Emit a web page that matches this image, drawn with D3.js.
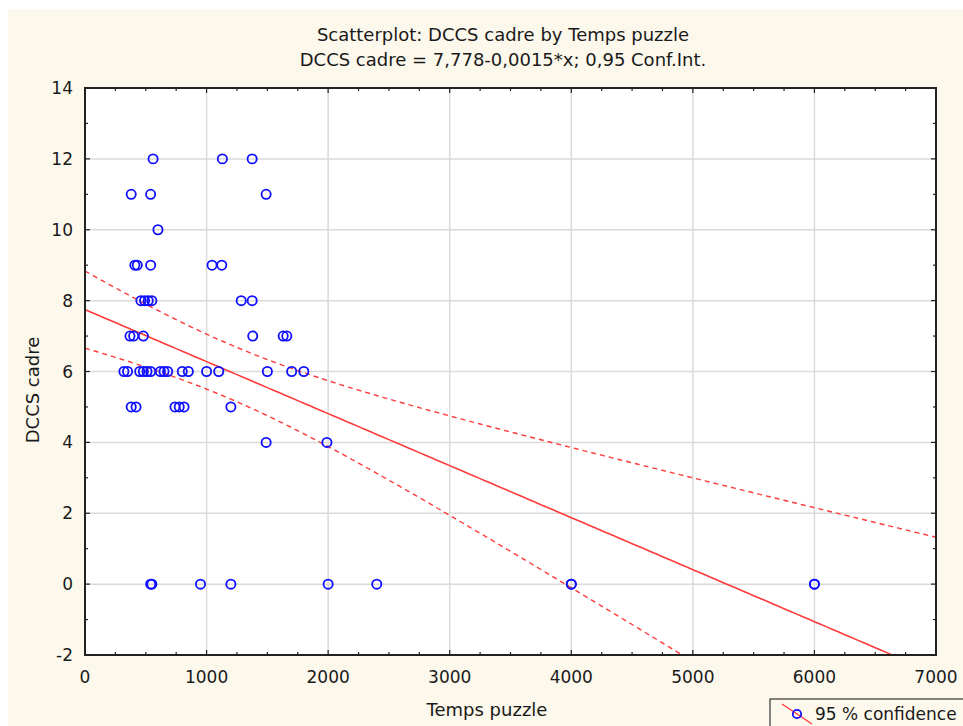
<!DOCTYPE html>
<html>
<head>
<meta charset="utf-8">
<script src="https://cdn.jsdelivr.net/npm/d3@7"></script>
<style>
  html, body { margin: 0; padding: 0; background: #ffffff; }
  svg { display: block; }
</style>
</head>
<body>
<svg id="chart" width="963" height="726"></svg>
<script>
// ---- data ----
const tempsPuzzle = [
  560, 1130, 1375,
  380, 540, 1490,
  600,
  410, 430, 540, 1045, 1125,
  460, 490, 520, 550, 1285, 1375,
  370, 400, 480, 1380, 1630, 1660,
  320, 350, 450, 480, 510, 540, 620, 650, 680, 800, 850, 1000, 1100, 1500, 1700, 1800,
  380, 420, 740, 775, 815, 1200,
  1490, 1990,
  540, 550, 950, 1200, 2000, 2400, 4000, 4000, 6000, 6000
];
const dccsCadre = [
  12, 12, 12,
  11, 11, 11,
  10,
  9, 9, 9, 9, 9,
  8, 8, 8, 8, 8, 8,
  7, 7, 7, 7, 7, 7,
  6, 6, 6, 6, 6, 6, 6, 6, 6, 6, 6, 6, 6, 6, 6, 6,
  5, 5, 5, 5, 5, 5,
  4, 4,
  0, 0, 0, 0, 0, 0, 0, 0, 0, 0
];
const xTicks = [0, 1000, 2000, 3000, 4000, 5000, 6000, 7000];
const yTicks = [-2, 0, 2, 4, 6, 8, 10, 12, 14];
const titleLines = ["Scatterplot: DCCS cadre by Temps puzzle", "DCCS cadre = 7,778-0,0015*x; 0,95 Conf.Int."];
const xLabel = "Temps puzzle";
const yLabel = "DCCS cadre";
const legendLabel = "95 % confidence";
const tCrit = [2.004];

// ---- layout ----
const svg = d3.select("#chart");
const W = 963, H = 726;
const L = 85, R = 936, T = 88, B = 655;
const font = "'DejaVu Sans', Verdana, sans-serif";
const blue = "#1010ff", red = "#ff3b3b";

svg.append("rect").attr("x", 0).attr("y", 0).attr("width", W).attr("height", H).attr("fill", "#ffffff");
svg.append("rect").attr("x", 8).attr("y", 9).attr("width", W - 8).attr("height", H - 9).attr("fill", "#fdf8ec");

const x = d3.scaleLinear().domain([0, 7000]).range([L, R]);
const y = d3.scaleLinear().domain([-2, 14]).range([B, T]);

svg.append("rect").attr("x", L).attr("y", T).attr("width", R - L).attr("height", B - T).attr("fill", "#ffffff");

// grid
const grid = svg.append("g").attr("stroke", "#dadada").attr("stroke-width", 1.5);
xTicks.slice(1, -1).forEach(v => grid.append("line").attr("x1", x(v)).attr("x2", x(v)).attr("y1", T).attr("y2", B));
yTicks.slice(1, -1).forEach(v => grid.append("line").attr("x1", L).attr("x2", R).attr("y1", y(v)).attr("y2", y(v)));

// regression from data
const n = tempsPuzzle.length;
const mx = d3.mean(tempsPuzzle), my = d3.mean(dccsCadre);
let sxx = 0, sxy = 0;
for (let i = 0; i < n; i++) { sxx += (tempsPuzzle[i] - mx) ** 2; sxy += (tempsPuzzle[i] - mx) * (dccsCadre[i] - my); }
const slope = sxy / sxx, icpt = my - slope * mx;
let sse = 0;
for (let i = 0; i < n; i++) sse += (dccsCadre[i] - (icpt + slope * tempsPuzzle[i])) ** 2;
const s = Math.sqrt(sse / (n - 2));
const xs = d3.range(0, 7001, 50);
const fit = v => icpt + slope * v;
const hw = v => tCrit[0] * s * Math.sqrt(1 / n + (v - mx) ** 2 / sxx);

const defs = svg.append("defs");
defs.append("clipPath").attr("id", "clip").append("rect").attr("x", L).attr("y", T).attr("width", R - L).attr("height", B - T);
const plot = svg.append("g").attr("clip-path", "url(#clip)");

const line = d3.line().x(d => x(d[0])).y(d => y(d[1]));
plot.append("path").attr("d", line(xs.map(v => [v, fit(v)]))).attr("fill", "none").attr("stroke", red).attr("stroke-width", 1.6);
plot.append("path").attr("d", line(xs.map(v => [v, fit(v) + hw(v)]))).attr("fill", "none").attr("stroke", red).attr("stroke-width", 1.4).attr("stroke-dasharray", "5,4");
plot.append("path").attr("d", line(xs.map(v => [v, fit(v) - hw(v)]))).attr("fill", "none").attr("stroke", red).attr("stroke-width", 1.4).attr("stroke-dasharray", "5,4");

// points
plot.selectAll("circle.pt").data(tempsPuzzle.map((v, i) => [v, dccsCadre[i]])).enter()
  .append("circle").attr("class", "pt")
  .attr("cx", d => x(d[0])).attr("cy", d => y(d[1])).attr("r", 4.6)
  .attr("fill", "none").attr("stroke", blue).attr("stroke-width", 1.8);

// frame
svg.append("rect").attr("x", L).attr("y", T).attr("width", R - L).attr("height", B - T)
  .attr("fill", "none").attr("stroke", "#222").attr("stroke-width", 2);

// inward ticks on all sides
const tk = svg.append("g").attr("stroke", "#222").attr("stroke-width", 1.2);
d3.range(0, 7001, 250).forEach(v => {
  const len = v % 1000 === 0 ? 5 : 3;
  tk.append("line").attr("x1", x(v)).attr("x2", x(v)).attr("y1", B).attr("y2", B - len);
  tk.append("line").attr("x1", x(v)).attr("x2", x(v)).attr("y1", T).attr("y2", T + len);
});
d3.range(-2, 14.01, 1).forEach(v => {
  const len = v % 2 === 0 ? 5 : 3;
  tk.append("line").attr("x1", L).attr("x2", L + len).attr("y1", y(v)).attr("y2", y(v));
  tk.append("line").attr("x1", R).attr("x2", R - len).attr("y1", y(v)).attr("y2", y(v));
});

// tick labels
const txtColor = "#1a1a1a";
svg.append("g").selectAll("text").data(xTicks).enter().append("text")
  .attr("x", d => x(d)).attr("y", 683).attr("text-anchor", "middle")
  .attr("font-family", font).attr("font-size", 17).attr("fill", txtColor).text(d => d);
svg.append("g").selectAll("text").data(yTicks).enter().append("text")
  .attr("x", 73).attr("y", d => y(d) + 6).attr("text-anchor", "end")
  .attr("font-family", font).attr("font-size", 17).attr("fill", txtColor).text(d => d);

// titles
titleLines.forEach((t, i) => svg.append("text").attr("x", 503).attr("y", 41 + i * 25).attr("text-anchor", "middle")
  .attr("font-family", font).attr("font-size", 18).attr("fill", txtColor).text(t));
svg.append("text").attr("x", 487).attr("y", 716).attr("text-anchor", "middle")
  .attr("font-family", font).attr("font-size", 18).attr("fill", txtColor).text(xLabel);
svg.append("text").attr("transform", "translate(39,390) rotate(-90)").attr("text-anchor", "middle")
  .attr("font-family", font).attr("font-size", 18).attr("fill", txtColor).text(yLabel);

// legend
const lg = svg.append("g");
lg.append("rect").attr("x", 770).attr("y", 699).attr("width", 200).attr("height", 40)
  .attr("fill", "#fdf8ec").attr("stroke", "#333").attr("stroke-width", 1.2);
lg.append("line").attr("x1", 782).attr("y1", 704).attr("x2", 812).attr("y2", 724).attr("stroke", red).attr("stroke-width", 1.4);
lg.append("circle").attr("cx", 797).attr("cy", 714).attr("r", 4.2).attr("fill", "none").attr("stroke", blue).attr("stroke-width", 1.8);
lg.append("text").attr("x", 815).attr("y", 720).attr("font-family", font).attr("font-size", 17).attr("fill", txtColor).text(legendLabel);
</script>
</body>
</html>
